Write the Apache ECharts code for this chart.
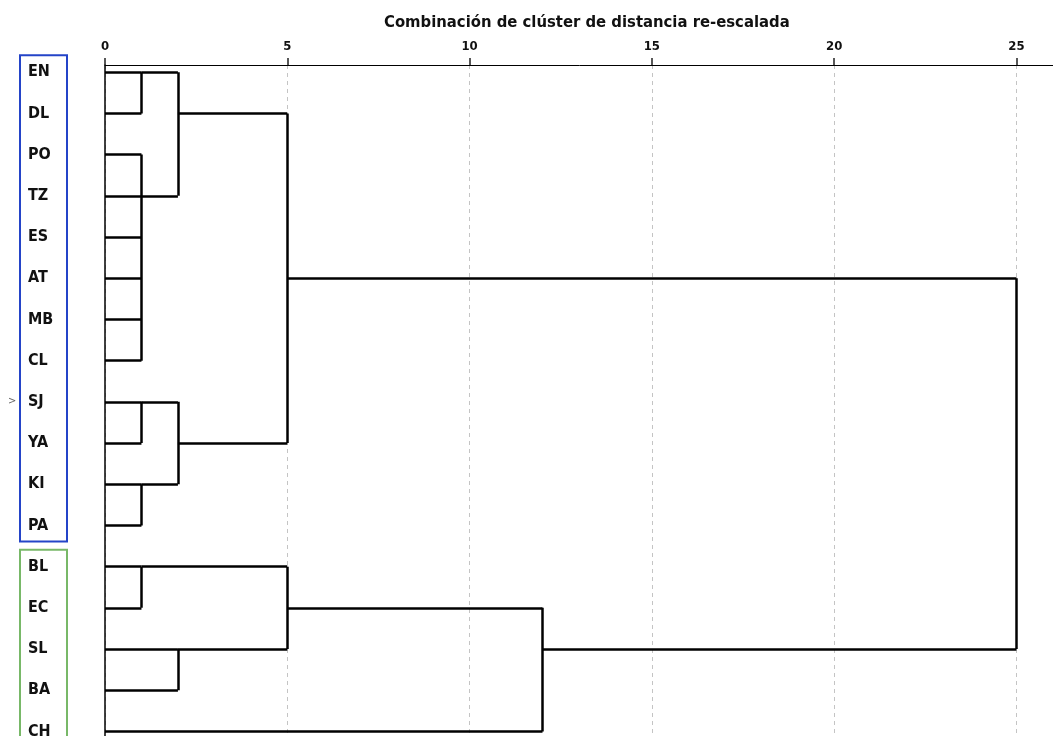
<!DOCTYPE html>
<html>
<head>
<meta charset="utf-8">
<script src="https://cdn.jsdelivr.net/npm/echarts@6/dist/echarts.min.js"></script>
<style>
html,body{margin:0;padding:0;background:#fff;}
#chart{width:1053px;height:736px;}
</style>
</head>
<body>
<div id="chart" style="width:1053px;height:736px;"></div>
<script>
// ---- data ----
const titleText = 'Combinación de clúster de distancia re-escalada';
const leaves = ['EN','DL','PO','TZ','ES','AT','MB','CL','SJ','YA','KI','PA','BL','EC','SL','BA','CH'];
// node ids: 0..16 = leaves, 17+k = merge k
const mergeChildren = [[0,1],[2,3,4,5,6,7],[17,18],[8,9],[10,11],[20,21],[19,22],[12,13],[14,15],[24,25],[26,16],[23,27]];
const mergeHeights  = [1, 1, 2, 1, 1, 2, 5, 1, 2, 5, 12, 25];
const mergeRows     = [0, 3, 1, 8, 10, 9, 5, 12, 14, 13, 14, null];
const groupRanges   = [[0,11],[12,16]];
const groupColors   = ['#2444c8','#78b868'];
const xTicks        = [0,5,10,15,20,25];

// ---- build dendrogram segments (in data units) ----
const nodeRow = leaves.map((_, i) => i);
const nodeH = leaves.map(() => 0);
const segs = [];
mergeChildren.forEach((ch, k) => {
  const h = mergeHeights[k];
  const rows = ch.map(c => nodeRow[c]);
  ch.forEach(c => segs.push({coords: [[nodeH[c], nodeRow[c]], [h, nodeRow[c]]]}));
  segs.push({coords: [[h, Math.min(...rows)], [h, Math.max(...rows)]]});
  nodeRow.push(mergeRows[k]);
  nodeH.push(h);
});

const FONT = "'DejaVu Sans Condensed','Liberation Sans Narrow','Liberation Sans',Arial,sans-serif";

const chart = echarts.init(document.getElementById('chart'), null, {renderer: 'canvas', width: 1053, height: 736});
chart.setOption({
  animation: false,
  backgroundColor: '#fff',
  title: {
    text: titleText, left: 379, top: 9,
    textStyle: {fontFamily: FONT, fontWeight: 'bold', fontSize: 16.5, color: '#111'}
  },
  grid: {left: 105, right: -1, top: 65, bottom: 0, containLabel: false, outerBoundsMode: 'none'},
  xAxis: {
    type: 'value', position: 'top', min: 0, max: 26.03,
    interval: 5,
    axisLine: {show: true, onZero: false, lineStyle: {color: '#000', width: 1}},
    axisTick: {show: true, length: 7, lineStyle: {color: '#222', width: 1.5}},
    axisLabel: {
      show: true, margin: 12, fontFamily: FONT, fontWeight: 'bold', fontSize: 13, color: '#111',
      formatter: v => (xTicks.indexOf(v) >= 0 ? String(v) : '')
    },
    splitLine: {show: true, lineStyle: {color: '#c4c4c4', width: 1, type: [4, 4]}}
  },
  yAxis: {
    type: 'value', inverse: true, min: -0.175, max: 16.11,
    axisLine: {show: true, onZero: false, lineStyle: {color: '#000', width: 1.5}},
    axisTick: {show: false},
    splitLine: {show: false},
    axisLabel: {
      show: true, customValues: leaves.map((_, i) => i),
      formatter: v => leaves[v] || '',
      align: 'left', margin: 77, hideOverlap: false, showMinLabel: true, showMaxLabel: true,
      fontFamily: FONT, fontWeight: 'bold', fontSize: 16, color: '#111'
    }
  },
  series: [
    {
      type: 'lines', coordinateSystem: 'cartesian2d', polyline: false,
      silent: true, z: 5,
      lineStyle: {color: '#000', width: 2.5, opacity: 1},
      data: segs
    },
    {
      type: 'custom', coordinateSystem: 'cartesian2d', clip: false, silent: true, z: 4,
      data: groupRanges.map((g, i) => [g[0], g[1], i]),
      renderItem: function (params, api) {
        const top = api.coord([0, api.value(0) - 0.41])[1];
        const bot = api.coord([0, api.value(1) + 0.39])[1];
        return {
          type: 'rect',
          shape: {x: 20, y: top, width: 47, height: bot - top},
          style: {fill: null, stroke: groupColors[api.value(2)], lineWidth: 2}
        };
      }
    }
  ],
  graphic: [
    {type: 'text', left: 8, top: 396, style: {text: '>', fontFamily: FONT, fontSize: 11, fill: '#666'}}
  ]
});
</script>
</body>
</html>
